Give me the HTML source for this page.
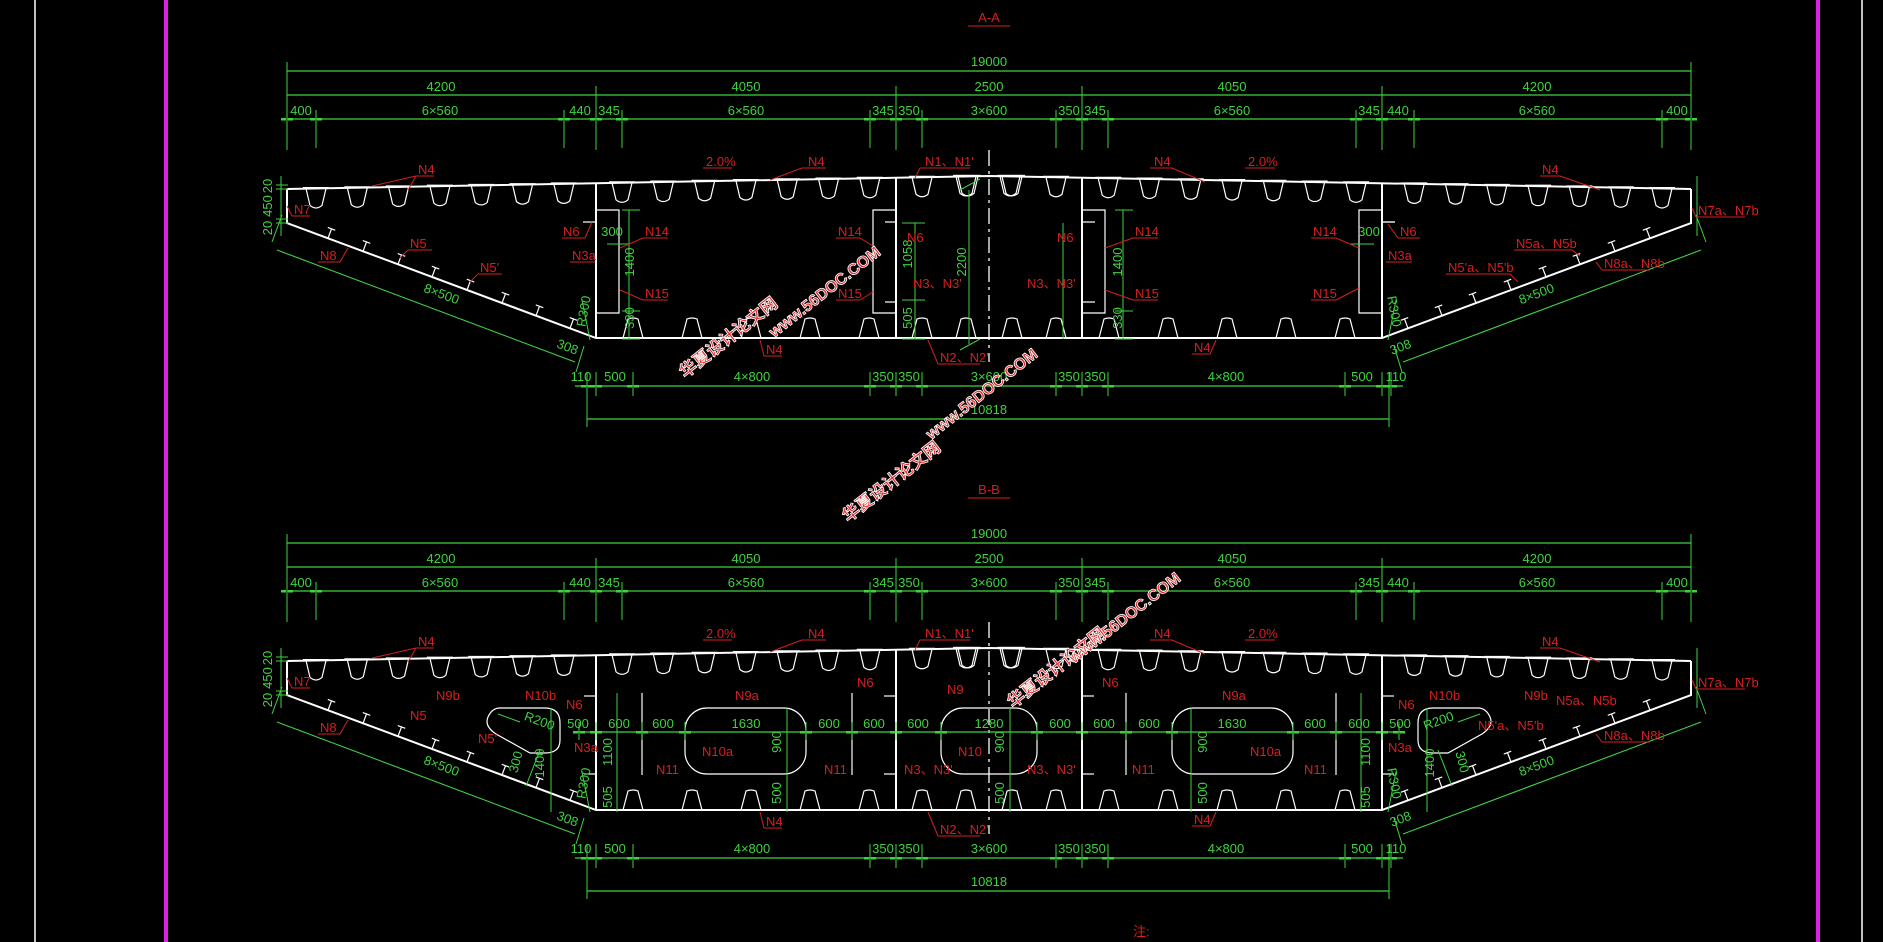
<!DOCTYPE html>
<html><head><meta charset="utf-8">
<style>
html,body{margin:0;padding:0;background:#000;width:1883px;height:942px;overflow:hidden}
svg{display:block}
.g{fill:#3fd23f;font-family:"Liberation Sans",sans-serif;font-size:13px}
.r{fill:#d42020;font-family:"Liberation Sans",sans-serif;font-size:13px}
.w{fill:#e23030;stroke:#fff;stroke-width:0.8;font-family:"Liberation Sans","Noto Sans CJK SC",sans-serif;font-size:17px;font-weight:bold}
.w2{fill:#e23030;stroke:#fff;stroke-width:0.8;font-family:"Liberation Sans",sans-serif;font-size:16px;font-weight:bold}
</style></head><body>
<svg id="s" width="1883" height="942" viewBox="0 0 1883 942" xmlns="http://www.w3.org/2000/svg">
<rect width="1883" height="942" fill="#000"/>
<line x1="35" y1="0" x2="35" y2="942" stroke="#fff" stroke-width="1.5"/>
<rect x="164" y="0" width="4" height="942" fill="#e020e0"/>
<rect x="1816" y="0" width="4" height="942" fill="#e020e0"/>
<line x1="1862" y1="0" x2="1862" y2="942" stroke="#fff" stroke-width="1.5"/>
<g id="geo"></g>

<!-- titles -->
<text class="r" x="989" y="22" text-anchor="middle" font-size="17">A-A</text>
<line x1="968" y1="26" x2="1010" y2="26" stroke="#d42020"/>
<text class="r" x="989" y="494" text-anchor="middle" font-size="17">B-B</text>
<line x1="968" y1="498" x2="1010" y2="498" stroke="#d42020"/>
<text class="r" x="1133" y="936" font-size="14">注:</text>

<g id="txtA">
<text class="g" x="989" y="66" text-anchor="middle">19000</text>
<text class="g" x="441" y="91" text-anchor="middle">4200</text>
<text class="g" x="746" y="91" text-anchor="middle">4050</text>
<text class="g" x="989" y="91" text-anchor="middle">2500</text>
<text class="g" x="1232" y="91" text-anchor="middle">4050</text>
<text class="g" x="1537" y="91" text-anchor="middle">4200</text>
<text class="g" x="301" y="115" text-anchor="middle">400</text>
<text class="g" x="440" y="115" text-anchor="middle">6×560</text>
<text class="g" x="580" y="115" text-anchor="middle">440</text>
<text class="g" x="609" y="115" text-anchor="middle">345</text>
<text class="g" x="746" y="115" text-anchor="middle">6×560</text>
<text class="g" x="883" y="115" text-anchor="middle">345</text>
<text class="g" x="909" y="115" text-anchor="middle">350</text>
<text class="g" x="989" y="115" text-anchor="middle">3×600</text>
<text class="g" x="1069" y="115" text-anchor="middle">350</text>
<text class="g" x="1095" y="115" text-anchor="middle">345</text>
<text class="g" x="1232" y="115" text-anchor="middle">6×560</text>
<text class="g" x="1369" y="115" text-anchor="middle">345</text>
<text class="g" x="1398" y="115" text-anchor="middle">440</text>
<text class="g" x="1537" y="115" text-anchor="middle">6×560</text>
<text class="g" x="1677" y="115" text-anchor="middle">400</text>
<text class="g" x="581" y="381" text-anchor="middle">110</text>
<text class="g" x="615" y="381" text-anchor="middle">500</text>
<text class="g" x="752" y="381" text-anchor="middle">4×800</text>
<text class="g" x="883" y="381" text-anchor="middle">350</text>
<text class="g" x="909" y="381" text-anchor="middle">350</text>
<text class="g" x="989" y="381" text-anchor="middle">3×600</text>
<text class="g" x="1069" y="381" text-anchor="middle">350</text>
<text class="g" x="1095" y="381" text-anchor="middle">350</text>
<text class="g" x="1226" y="381" text-anchor="middle">4×800</text>
<text class="g" x="1362" y="381" text-anchor="middle">500</text>
<text class="g" x="1396" y="381" text-anchor="middle">110</text>
<text class="g" x="989" y="414" text-anchor="middle">10818</text>
<text class="g" transform="translate(272,186) rotate(-90)" text-anchor="middle" font-size="11">20</text>
<text class="g" transform="translate(272,206) rotate(-90)" text-anchor="middle" font-size="11">450</text>
<text class="g" transform="translate(272,228) rotate(-90)" text-anchor="middle" font-size="11">20</text>
<text class="g" transform="translate(440,298) rotate(20.6)" text-anchor="middle">8×500</text>
<text class="g" transform="translate(1538,298) rotate(-20.6)" text-anchor="middle">8×500</text>
<text class="g" transform="translate(588,312) rotate(-80)" text-anchor="middle" font-size="11">R300</text>
<text class="g" transform="translate(1390,312) rotate(80)" text-anchor="middle" font-size="11">R300</text>
<text class="g" transform="translate(566,351) rotate(20.6)" text-anchor="middle" font-size="11">308</text>
<text class="g" transform="translate(1402,351) rotate(-20.6)" text-anchor="middle" font-size="11">308</text>
<text class="g" x="612" y="236" text-anchor="middle">300</text>
<text class="g" x="1369" y="236" text-anchor="middle">300</text>
<text class="g" transform="translate(634,262) rotate(-90)" text-anchor="middle">1400</text>
<text class="g" transform="translate(634,318) rotate(-90)" text-anchor="middle">330</text>
<text class="g" transform="translate(1122,262) rotate(-90)" text-anchor="middle">1400</text>
<text class="g" transform="translate(1122,318) rotate(-90)" text-anchor="middle">330</text>
<text class="g" transform="translate(912,254) rotate(-90)" text-anchor="middle">1058</text>
<text class="g" transform="translate(912,318) rotate(-90)" text-anchor="middle">505</text>
<text class="g" transform="translate(966,262) rotate(-90)" text-anchor="middle">2200</text>
<text class="g" transform="translate(1116,270) rotate(-90)" text-anchor="middle" font-size="0"> </text>
</g>

<g id="redA">
<text class="r" x="418" y="174">N4</text>
<text class="r" x="706" y="166">2.0%</text>
<text class="r" x="808" y="166">N4</text>
<text class="r" x="925" y="166">N1、N1'</text>
<text class="r" x="1154" y="166">N4</text>
<text class="r" x="1248" y="166">2.0%</text>
<text class="r" x="1542" y="174">N4</text>
<text class="r" x="294" y="214">N7</text>
<text class="r" x="1698" y="215">N7a、N7b</text>
<text class="r" x="320" y="260">N8</text>
<text class="r" x="410" y="248">N5</text>
<text class="r" x="480" y="272">N5'</text>
<text class="r" x="563" y="236">N6</text>
<text class="r" x="572" y="260">N3a</text>
<text class="r" x="645" y="236">N14</text>
<text class="r" x="645" y="298">N15</text>
<text class="r" x="838" y="236">N14</text>
<text class="r" x="838" y="298">N15</text>
<text class="r" x="907" y="242">N6</text>
<text class="r" x="913" y="288">N3、N3'</text>
<text class="r" x="1057" y="242">N6</text>
<text class="r" x="1027" y="288">N3、N3'</text>
<text class="r" x="1135" y="236">N14</text>
<text class="r" x="1135" y="298">N15</text>
<text class="r" x="1313" y="236">N14</text>
<text class="r" x="1313" y="298">N15</text>
<text class="r" x="1400" y="236">N6</text>
<text class="r" x="1388" y="260">N3a</text>
<text class="r" x="1448" y="272">N5'a、N5'b</text>
<text class="r" x="1516" y="248">N5a、N5b</text>
<text class="r" x="1604" y="268">N8a、N8b</text>
<text class="r" x="766" y="354">N4</text>
<text class="r" x="940" y="362">N2、N2'</text>
<text class="r" x="1194" y="352">N4</text>
</g>

<g id="txtB">
<text class="g" x="989" y="538" text-anchor="middle">19000</text>
<text class="g" x="441" y="563" text-anchor="middle">4200</text>
<text class="g" x="746" y="563" text-anchor="middle">4050</text>
<text class="g" x="989" y="563" text-anchor="middle">2500</text>
<text class="g" x="1232" y="563" text-anchor="middle">4050</text>
<text class="g" x="1537" y="563" text-anchor="middle">4200</text>
<text class="g" x="301" y="587" text-anchor="middle">400</text>
<text class="g" x="440" y="587" text-anchor="middle">6×560</text>
<text class="g" x="580" y="587" text-anchor="middle">440</text>
<text class="g" x="609" y="587" text-anchor="middle">345</text>
<text class="g" x="746" y="587" text-anchor="middle">6×560</text>
<text class="g" x="883" y="587" text-anchor="middle">345</text>
<text class="g" x="909" y="587" text-anchor="middle">350</text>
<text class="g" x="989" y="587" text-anchor="middle">3×600</text>
<text class="g" x="1069" y="587" text-anchor="middle">350</text>
<text class="g" x="1095" y="587" text-anchor="middle">345</text>
<text class="g" x="1232" y="587" text-anchor="middle">6×560</text>
<text class="g" x="1369" y="587" text-anchor="middle">345</text>
<text class="g" x="1398" y="587" text-anchor="middle">440</text>
<text class="g" x="1537" y="587" text-anchor="middle">6×560</text>
<text class="g" x="1677" y="587" text-anchor="middle">400</text>
<text class="g" x="581" y="853" text-anchor="middle">110</text>
<text class="g" x="615" y="853" text-anchor="middle">500</text>
<text class="g" x="752" y="853" text-anchor="middle">4×800</text>
<text class="g" x="883" y="853" text-anchor="middle">350</text>
<text class="g" x="909" y="853" text-anchor="middle">350</text>
<text class="g" x="989" y="853" text-anchor="middle">3×600</text>
<text class="g" x="1069" y="853" text-anchor="middle">350</text>
<text class="g" x="1095" y="853" text-anchor="middle">350</text>
<text class="g" x="1226" y="853" text-anchor="middle">4×800</text>
<text class="g" x="1362" y="853" text-anchor="middle">500</text>
<text class="g" x="1396" y="853" text-anchor="middle">110</text>
<text class="g" x="989" y="886" text-anchor="middle">10818</text>
<text class="g" transform="translate(272,658) rotate(-90)" text-anchor="middle" font-size="11">20</text>
<text class="g" transform="translate(272,678) rotate(-90)" text-anchor="middle" font-size="11">450</text>
<text class="g" transform="translate(272,700) rotate(-90)" text-anchor="middle" font-size="11">20</text>
<text class="g" transform="translate(440,770) rotate(20.6)" text-anchor="middle">8×500</text>
<text class="g" transform="translate(1538,770) rotate(-20.6)" text-anchor="middle">8×500</text>
<text class="g" transform="translate(588,784) rotate(-80)" text-anchor="middle" font-size="11">R300</text>
<text class="g" transform="translate(1390,784) rotate(80)" text-anchor="middle" font-size="11">R300</text>
<text class="g" transform="translate(566,823) rotate(20.6)" text-anchor="middle" font-size="11">308</text>
<text class="g" transform="translate(1402,823) rotate(-20.6)" text-anchor="middle" font-size="11">308</text>
<text class="g" x="578" y="728" text-anchor="middle">500</text>
<text class="g" x="619" y="728" text-anchor="middle">600</text>
<text class="g" x="663" y="728" text-anchor="middle">600</text>
<text class="g" x="746" y="728" text-anchor="middle">1630</text>
<text class="g" x="829" y="728" text-anchor="middle">600</text>
<text class="g" x="874" y="728" text-anchor="middle">600</text>
<text class="g" x="918" y="728" text-anchor="middle">600</text>
<text class="g" x="989" y="728" text-anchor="middle">1280</text>
<text class="g" x="1060" y="728" text-anchor="middle">600</text>
<text class="g" x="1104" y="728" text-anchor="middle">600</text>
<text class="g" x="1149" y="728" text-anchor="middle">600</text>
<text class="g" x="1232" y="728" text-anchor="middle">1630</text>
<text class="g" x="1315" y="728" text-anchor="middle">600</text>
<text class="g" x="1359" y="728" text-anchor="middle">600</text>
<text class="g" x="1400" y="728" text-anchor="middle">500</text>
<text class="g" transform="translate(612,752) rotate(-90)" text-anchor="middle">1100</text>
<text class="g" transform="translate(612,797) rotate(-90)" text-anchor="middle">505</text>
<text class="g" transform="translate(1370,752) rotate(-90)" text-anchor="middle">1100</text>
<text class="g" transform="translate(1370,797) rotate(-90)" text-anchor="middle">505</text>
<text class="g" transform="translate(781,742) rotate(-90)" text-anchor="middle">900</text>
<text class="g" transform="translate(781,793) rotate(-90)" text-anchor="middle">500</text>
<text class="g" transform="translate(1004,742) rotate(-90)" text-anchor="middle">900</text>
<text class="g" transform="translate(1004,793) rotate(-90)" text-anchor="middle">500</text>
<text class="g" transform="translate(1207,742) rotate(-90)" text-anchor="middle">900</text>
<text class="g" transform="translate(1207,793) rotate(-90)" text-anchor="middle">500</text>
<text class="g" transform="translate(538,725) rotate(20)" text-anchor="middle">R200</text>
<text class="g" transform="translate(1440,725) rotate(-20)" text-anchor="middle">R200</text>
<text class="g" transform="translate(520,763) rotate(-75)" text-anchor="middle">300</text>
<text class="g" transform="translate(544,763) rotate(-90)" text-anchor="middle">1400</text>
<text class="g" transform="translate(1434,763) rotate(-90)" text-anchor="middle">1400</text>
<text class="g" transform="translate(1458,763) rotate(75)" text-anchor="middle">300</text>
</g>

<g id="redB">
<text class="r" x="418" y="646">N4</text>
<text class="r" x="706" y="638">2.0%</text>
<text class="r" x="808" y="638">N4</text>
<text class="r" x="925" y="638">N1、N1'</text>
<text class="r" x="1154" y="638">N4</text>
<text class="r" x="1248" y="638">2.0%</text>
<text class="r" x="1542" y="646">N4</text>
<text class="r" x="294" y="686">N7</text>
<text class="r" x="1698" y="687">N7a、N7b</text>
<text class="r" x="320" y="732">N8</text>
<text class="r" x="410" y="720">N5</text>
<text class="r" x="478" y="743">N5'</text>
<text class="r" x="436" y="700">N9b</text>
<text class="r" x="525" y="700">N10b</text>
<text class="r" x="566" y="709">N6</text>
<text class="r" x="574" y="752">N3a</text>
<text class="r" x="735" y="700">N9a</text>
<text class="r" x="857" y="687">N6</text>
<text class="r" x="947" y="694">N9</text>
<text class="r" x="1102" y="687">N6</text>
<text class="r" x="1222" y="700">N9a</text>
<text class="r" x="1429" y="700">N10b</text>
<text class="r" x="1524" y="700">N9b</text>
<text class="r" x="1556" y="705">N5a、N5b</text>
<text class="r" x="1478" y="730">N5'a、N5'b</text>
<text class="r" x="1398" y="709">N6</text>
<text class="r" x="1388" y="752">N3a</text>
<text class="r" x="1604" y="740">N8a、N8b</text>
<text class="r" x="702" y="756">N10a</text>
<text class="r" x="656" y="774">N11</text>
<text class="r" x="824" y="774">N11</text>
<text class="r" x="904" y="774">N3、N3'</text>
<text class="r" x="958" y="756">N10</text>
<text class="r" x="1027" y="774">N3、N3'</text>
<text class="r" x="1132" y="774">N11</text>
<text class="r" x="1250" y="756">N10a</text>
<text class="r" x="1304" y="774">N11</text>
<text class="r" x="766" y="826">N4</text>
<text class="r" x="940" y="834">N2、N2'</text>
<text class="r" x="1194" y="824">N4</text>
</g>

<!-- watermarks -->
<text class="w" transform="translate(732,342) rotate(-38)" text-anchor="middle">华夏设计论文网</text>
<text class="w2" transform="translate(828,296) rotate(-38)" text-anchor="middle">www.56DOC.COM</text>
<text class="w" transform="translate(895,486) rotate(-38)" text-anchor="middle">华夏设计论文网</text>
<text class="w2" transform="translate(985,398) rotate(-38)" text-anchor="middle">www.56DOC.COM</text>
<text class="w" transform="translate(1060,672) rotate(-38)" text-anchor="middle">华夏设计论文网</text>
<text class="w2" transform="translate(1128,622) rotate(-38)" text-anchor="middle">www.56DOC.COM</text>
</svg>
<script>
(function(){
var NS="http://www.w3.org/2000/svg",G=document.getElementById('geo');
function el(t,a){var e=document.createElementNS(NS,t);for(var k in a)e.setAttribute(k,a[k]);G.appendChild(e);return e;}
var W="#fff",GR="#3fd23f",RD="#d42020",AX=989;
function L(x1,y1,x2,y2,c,w,d){var o={x1:x1,y1:y1,x2:x2,y2:y2,stroke:c,'stroke-width':w||1.3};if(d)o['stroke-dasharray']=d;el('line',o);}
function P(d,c,w){el('path',{d:d,stroke:c,'stroke-width':w||1.3,fill:'none'});}
function dy(x){return 176+Math.abs(x-AX)*(13/702);}
function m(x){return 2*AX-x;}
function section(o,B){
 // deck
 P('M287,'+(dy(287)+o)+' L'+AX+','+(176+o)+' L1691,'+(dy(1691)+o),W,2);
 // cantilevers
 P('M287,'+(dy(287)+o)+' L287,'+(223+o)+' L596,'+(338+o)+' L1382,'+(338+o)+' L1691,'+(223+o)+' L1691,'+(dy(1691)+o),W,2);
 [596,896,1082,1382].forEach(function(x){L(x,dy(x)+o,x,338+o,W,2);});
 L(AX,150+o,AX,362+o,W,1.3,'16 5 3 5');
 // deck ribs
 var xs=[];for(var k=0;k<7;k++){xs.push(316+41.3*k);xs.push(622+41.3*k);}
 [922,966,1010].forEach(function(x){xs.push(x);});
 var all=xs.slice();xs.forEach(function(x){all.push(m(x));});
 all.forEach(function(x){var y=dy(x)+o;P('M'+(x-10)+','+y+' L'+(x-6)+','+(y+17)+' Q'+x+','+(y+22)+' '+(x+6)+','+(y+17)+' L'+(x+10)+','+y,W,1.2);L(x-13,y-1,x+13,y-1,W,1);});
 // bottom ribs
 var bx=[633,692,751,810,869,922,966];var ba=bx.slice();bx.forEach(function(x){ba.push(m(x));});
 ba.forEach(function(x){var y=338+o;P('M'+(x-10)+','+y+' L'+(x-5)+','+(y-19)+' Q'+x+','+(y-21)+' '+(x+5)+','+(y-19)+' L'+(x+10)+','+y,W,1.2);});
 // T stiffeners on cantilever bottoms
 var dxu=0.936,dyu=0.351;
 [328,363,398,432,467,502,536,570].forEach(function(x){
  var y=223+(x-287)*(115/309)+o; var nx=0.351,ny=-0.936;
  [[x,y,1],[m(x),y,-1]].forEach(function(p){var sx=p[2];var ex=p[0]+nx*sx*10,ey=p[1]+ny*10;
   L(p[0],p[1],ex,ey,W,1.2);L(ex-dxu*4*sx,ey-dyu*4,ex+dxu*4*sx,ey+dyu*4,W,1.2);});
 });
 // dims top
 var t1=[287,1691],t2=[287,596,896,1082,1382,1691],t3=[287,316,564,596,622,870,896,922,1056,1082,1108,1356,1382,1414,1662,1691];
 L(287,71+o,1691,71+o,GR,1.3);L(287,95+o,1691,95+o,GR,1.3);L(287,119+o,1691,119+o,GR,1.3);
 t1.forEach(function(x){L(x,62+o,x,150+o,GR,1);});
 t2.forEach(function(x){L(x,86+o,x,150+o,GR,1);});
 t3.forEach(function(x){L(x,110+o,x,148+o,GR,1);});
 t3.forEach(function(x){el('rect',{x:x-6,y:118+o,width:5,height:2.5,fill:GR});el('rect',{x:x+1,y:118+o,width:5,height:2.5,fill:GR});});
 // bottom dims
 var b3=[587,596,633,870,896,922,1056,1082,1108,1345,1382,1391];
 L(575,386+o,1403,386+o,GR,1.3);b3.forEach(function(x){L(x,372+o,x,396+o,GR,1);el('rect',{x:x+1,y:385+o,width:5,height:2.5,fill:GR});el('rect',{x:x-6,y:385+o,width:5,height:2.5,fill:GR});});
 L(587,419+o,1389,419+o,GR,1.3);L(587,372+o,587,427+o,GR,1);L(1389,372+o,1389,427+o,GR,1);
 // left vertical dim 20/450/20
 L(281,176+o,281,236+o,GR,1);[185,189,219,223].forEach(function(y){L(276,y+o,288,y+o,GR,1);});
 L(1697,176+o,1697,236+o,GR,1);
 // slant dims
 P('M277,'+(250+o)+' L575,'+(362+o),GR,1.1);P('M1701,'+(250+o)+' L1403,'+(362+o),GR,1.1);
 L(272,242+o,282,215+o,GR,1);L(1706,242+o,1696,215+o,GR,1);
 L(576,372+o,584,346+o,GR,1);L(1402,372+o,1394,346+o,GR,1);
 L(590,340+o,582,300+o,GR,1);L(1388,340+o,1396,300+o,GR,1);
 if(!B){
  P('M596,210 L619,210 L619,313 L596,313',W,1.2);
  P('M1382,210 L1359,210 L1359,313 L1382,313',W,1.2);
  P('M896,210 L873,210 L873,313 L896,313',W,1.2);
  P('M1082,210 L1105,210 L1105,313 L1082,313',W,1.2);
  [[596,583,222],[896,885,222],[1082,1095,222],[1382,1395,222],[896,885,302],[1082,1095,302]].forEach(function(a){L(a[0],a[2],a[1],a[2],W,1.2);});
  L(1382,222,1395,222,W,1.2);
  L(607,244,630,244,GR,1);L(1351,244,1374,244,GR,1);
  L(629,210,629,339,GR,1);[210,311,339].forEach(function(y){L(622,y,640,y,GR,1);});
  L(1123,210,1123,339,GR,1);[210,311,339].forEach(function(y){L(1115,y,1133,y,GR,1);});
  L(915,223,915,339,GR,1);[223,300,339].forEach(function(y){L(902,y,925,y,GR,1);});
  L(969,190,969,344,GR,1);L(960,190,980,179,GR,1);L(960,350,980,339,GR,1);
  L(1063,223,1063,339,GR,1);
 } else {
  var cut=function(x1,x2,y1,y2){el('rect',{x:x1,y:y1,width:x2-x1,height:y2-y1,rx:22,ry:22,fill:'none',stroke:W,'stroke-width':1.2});};
  cut(685,806,708,774);cut(941,1037,708,774);cut(1172,1293,708,774);
  P('M500,708 L545,708 Q560,708 560,723 L560,740 Q560,753 545,753 L530,753 L496,734 Q484,726 488,717 Q492,708 500,708 Z',W,1.2);
  P('M1478,708 L1433,708 Q1418,708 1418,723 L1418,740 Q1418,753 1433,753 L1448,753 L1482,734 Q1494,726 1490,717 Q1486,708 1478,708 Z',W,1.2);
  [642,852,1126,1336].forEach(function(x){L(x,693,x,775,W,1.2);});
  [[596,584,696],[896,884,696],[896,884,774],[1082,1094,696],[1082,1094,774],[1382,1394,696],[596,584,774],[1382,1394,774]].forEach(function(a){L(a[0],a[2],a[1],a[2],W,1.2);});
  L(575,732,1403,732,GR,1.2);
  [579,596,642,685,806,852,896,941,1037,1082,1126,1172,1293,1336,1382,1399].forEach(function(x){L(x,722,x,740,GR,1);el('rect',{x:x+1,y:731,width:5,height:2.5,fill:GR});el('rect',{x:x-6,y:731,width:5,height:2.5,fill:GR});});
  L(617,693,617,812,GR,1);L(1361,693,1361,812,GR,1);
  L(787,708,787,812,GR,1);L(1010,708,1010,812,GR,1);L(1191,708,1191,812,GR,1);
  L(551,708,551,812,GR,1);L(1427,708,1427,812,GR,1);
  L(526,786,540,750,GR,1);L(1452,786,1438,750,GR,1);
  L(498,714,520,722,GR,1);L(1480,714,1458,722,GR,1);
 }
}
section(0,false);section(472,true);
// red leaders (both sections)
function R(a){for(var i=0;i<a.length;i+=4)L(a[i],a[i+1],a[i+2],a[i+3],RD,1);}
[0,472].forEach(function(o){
 R([416,176+o,434,176+o, 416,176+o,372,186+o, 416,176+o,408,190+o,
    802,168+o,826,168+o, 802,168+o,770,180+o, 1150,168+o,1172,168+o, 1172,168+o,1205,182+o,
    1540,176+o,1560,176+o, 1560,176+o,1600,190+o, 920,168+o,970,168+o, 920,168+o,915,178+o,
    292,216+o,310,216+o, 292,216+o,287,206+o, 1696,217+o,1745,217+o, 1696,217+o,1692,208+o,
    318,262+o,340,262+o, 340,262+o,348,248+o, 1602,270+o,1650,270+o, 1602,270+o,1596,262+o,
    764,356+o,782,356+o, 764,356+o,760,340+o, 938,364+o,980,364+o, 938,364+o,928,340+o,
    1192,354+o,1210,354+o, 1210,354+o,1216,340+o, 703,168+o,732,168+o,
    1245,168+o,1275,168+o]);
});
R([562,238,585,238, 585,238,592,222, 570,262,595,262, 643,238,668,238, 643,238,620,248,
   643,300,668,300, 643,300,620,290, 836,238,860,238, 860,238,873,246, 836,300,860,300, 860,300,873,292,
   1133,238,1158,238, 1133,238,1105,248, 1133,300,1158,300, 1133,300,1105,290,
   1311,238,1336,238, 1336,238,1359,248, 1311,300,1336,300, 1336,300,1359,288,
   1398,238,1420,238, 1398,238,1388,224, 1386,262,1412,262,
   408,250,432,250, 408,250,400,258, 478,274,502,274, 478,274,470,282, 1446,274,1510,274, 1510,274,1518,282,
   1514,250,1572,250, 1572,250,1580,256]);
})();
</script>
</body></html>
